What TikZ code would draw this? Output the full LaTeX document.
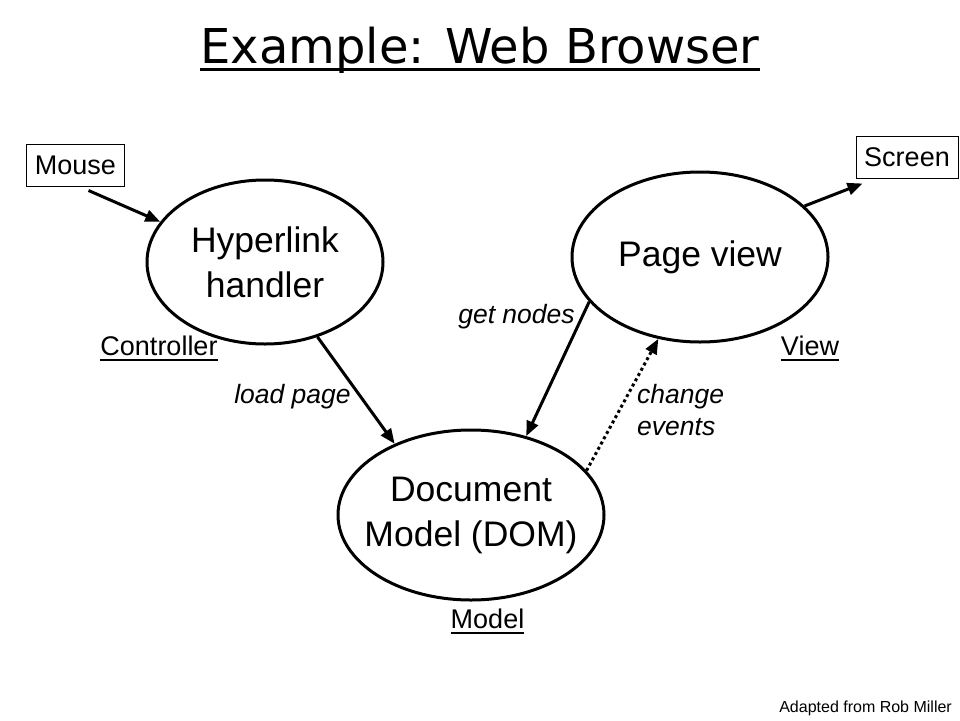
\documentclass[tikz,border=0pt]{standalone}
\usepackage{fontspec}
\setmainfont{Liberation Sans}
\newfontfamily\titlefont{DejaVu Sans}
\usetikzlibrary{shapes.geometric,arrows.meta,calc}
\begin{document}
\begin{tikzpicture}[x=1pt,y=-1pt,
  oval/.style={ellipse, draw, line width=3pt, inner sep=0pt, align=center, font=\fontsize{35.5}{45}\selectfont},
  dev/.style={draw, line width=1pt, inner sep=0pt, font=\fontsize{27}{30}\selectfont},
  role/.style={anchor=base, inner sep=0pt, font=\fontsize{27}{30}\selectfont},
  msg/.style={inner sep=0pt, font=\fontsize{26.5}{32}\selectfont\itshape},
  link/.style={line width=3pt, -{Triangle[length=15pt,width=12pt]}}]
\useasboundingbox (0,0) rectangle (960,720);
\node[anchor=base, inner sep=0pt, font=\titlefont\fontsize{48}{58}\selectfont] (title) at (480,63) {Example: Web Browser};
\draw[line width=3pt] ($(title.base west)+(0,6)$) -- ($(title.base east)+(0,6)$);
\node[dev, minimum width=98pt, minimum height=42pt] (mouse) at (75.5,165) {Mouse};
\node[dev, minimum width=102pt, minimum height=42pt] (screen) at (907,157) {Screen};
\node[oval, minimum width=236pt, minimum height=164pt] (hyp) at (265,262) {Hyperlink\\handler};
\node[oval, minimum width=256pt, minimum height=170pt] (page) at (700,257) {Page view};
\node[oval, minimum width=266pt, minimum height=170pt, inner xsep=-14pt] (dom) at (471,515) {Document\\Model (DOM)};
\node[role] (ctrl) at (159,355) {Controller};
\node[role] (view) at (810,355) {View};
\node[role] (model) at (487.5,628) {Model};
\foreach \n in {ctrl,view,model}
  \draw[line width=1.5pt] ($(\n.base west)+(0,5)$) -- ($(\n.base east)+(0,5)$);
\node[msg, anchor=base] (load) at (292.5,403) {load page};
\node[msg, anchor=base] (get) at (516.5,323) {get nodes};
\node[msg, anchor=west, align=left] (chg) at (637,410) {change\\events};
\node[anchor=base east, inner sep=0pt, font=\fontsize{16}{19}\selectfont] (credit) at (952,712) {Adapted from Rob Miller};
\draw[link] ($(mouse.south)+(13,4)$) -- (hyp.159);
\draw[link] (page.26) -- ($(screen.south west)+(7,5)$);
\draw[link] (hyp.-55) -- (dom.137);
\draw[link] (page.202) -- (dom.55);
\draw[link, dash pattern=on 3pt off 3pt] (dom.21) -- (page.-117);
\end{tikzpicture}
\end{document}
